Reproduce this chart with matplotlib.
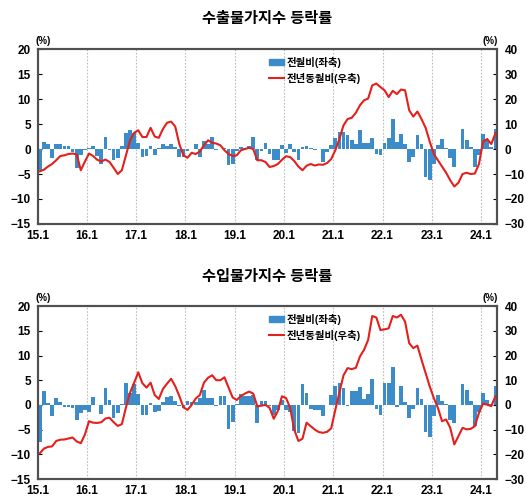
import numpy as np
import matplotlib
matplotlib.use('Agg')
import matplotlib.pyplot as plt
from matplotlib.patches import Patch
from matplotlib.lines import Line2D

plt.rcParams['font.family'] = ['Liberation Sans', 'Noto Sans CJK KR', 'DejaVu Sans']

# x tick labels (month index 0 = 2015.1, 112 months)
tick_labels = ['15.1', '16.1', '17.1', '18.1', '19.1', '20.1', '21.1', '22.1', '23.1', '24.1']

# export price index: month-on-month (left axis, %)
exp_mom = [
    -4.2, 1.4, 1.0, -1.8, 1.0, 1.1, 0.6, 0.6, -0.6, -3.8, -1.1, -0.2,
    0.2, 0.7, -1.4, -2.9, 2.4, -0.2, -2.2, -1.8, 0.7, 3.3, 3.8, 3.3,
    1.2, -1.5, -1.4, 0.6, -1.2, 0.2, 1.0, 0.6, 1.0, 0.5, -1.6, -1.5,
    -0.3, 0.1, 1.1, -1.6, 1.7, 1.0, 2.5, -0.2, 0.1, 0.3, -3.2, -2.9,
    -0.3, 0.4, 0.3, 0.7, 2.5, -2.2, -0.4, 1.3, -1.0, -2.25, -2.25, 0.75,
    -0.75, 1.0, -0.6, -2.25, 0.5, 0.6, 0.15, -0.15, 0.0, -2.5, -0.5, 0.75,
    2.25, 3.5, 3.5, 2.75, 1.75, 1.0, 3.75, 1.25, 1.25, 2.25, -1.0, -1.25,
    1.25, 2.25, 6.0, 1.5, 3.0, 1.0, -2.5, -1.5, 2.75, 1.0, -5.5, -6.25,
    -3.0, 0.75, 2.0, 0.15, -1.75, -3.5, 0.0, 4.0, 1.75, 0.5, -3.5, -1.25,
    3.0, 1.75, 0.5, 4.0,
]

# export price index: year-on-year (right axis, %)
exp_yoy = [
    -8.9, -8.3, -7.0, -6.0, -4.5, -2.8, -2.5, -2.0, -1.8, -2.2, -8.5, -5.0,
    -1.8, -2.8, -4.3, -5.0, -4.2, -5.2, -7.5, -10.0, -8.5, -2.5, 3.5, 6.5,
    7.5, 4.8, 4.8, 8.5, 5.0, 4.5, 8.0, 10.5, 11.0, 9.0, 2.0, -2.5,
    -3.5, -1.5, -2.0, -1.0, 1.5, 3.5, 2.5, 2.2, 1.5, -0.5, -2.0, -2.8,
    -2.5, -0.5, 0.0, 0.5, 0.0, -4.5, -4.5, -5.2, -7.2, -6.8, -6.0, -4.3,
    -2.9, -3.2, -4.8, -7.0, -8.5, -6.7, -6.0, -6.6, -6.2, -6.3, -5.6, -4.0,
    -0.5, 4.0, 9.5, 12.0, 12.5, 14.5, 17.5, 19.5, 20.2, 25.5, 26.2, 24.8,
    23.5, 20.8, 23.3, 22.0, 23.8, 23.5, 15.5, 13.0, 15.0, 12.0, 8.5, 3.0,
    -2.0, -4.5, -7.0, -9.5, -12.5, -15.0, -13.5, -10.0, -9.5, -10.0, -9.8, -6.0,
    3.0, 4.0, 2.0, 6.3,
]

# import price index: month-on-month (left axis, %)
imp_mom = [
    -7.5, 2.9, 0.3, -2.3, 1.4, 0.6, -0.4, -0.4, -0.6, -3.0, -1.7, -1.0,
    -1.5, 1.7, -0.1, -1.8, 3.4, 0.9, -2.7, -1.7, 0.2, 4.4, 2.5, 4.3,
    2.2, -2.1, -2.1, 0.4, -1.4, -1.3, 0.5, 1.6, 1.9, 0.8, -0.2, -0.6,
    0.8, 0.6, 0.6, 1.3, 3.0, 1.4, 1.5, -0.2, 1.8, 1.8, -4.8, -3.5,
    0.1, 2.3, 1.8, 1.9, 2.0, -3.6, 0.75, 0.75, -0.25, -2.0, -1.0, 1.0,
    -1.0, -1.5, -5.25, -5.75, 4.15, 2.4, -0.75, -1.0, -1.1, -2.15, 0.0, 2.0,
    3.75, 4.5, 3.4, -0.25, 2.9, 2.75, 3.6, 1.25, 2.25, 5.25, -0.75, -2.0,
    4.5, 4.5, 7.65, -0.5, 3.75, 0.5, -2.75, -0.75, 3.4, 1.25, -5.5, -6.5,
    -2.25, 2.0, 0.75, 0.25, -3.0, -3.75, 0.0, 4.25, 3.0, 0.75, -4.25, -1.5,
    2.5, 1.0, 0.25, 3.85,
]

# import price index: year-on-year (right axis, %)
imp_yoy = [
    -19.6, -17.7, -17.0, -16.8, -14.6, -14.1, -14.0, -13.6, -13.2, -14.8, -15.5, -12.0,
    -6.6, -7.2, -7.3, -7.0, -5.5, -5.2, -7.0, -8.5, -7.8, -1.0, 5.0, 9.0,
    13.2, 8.8, 7.0, 9.0, 4.0, 2.4, 6.4, 8.6, 10.6, 7.6, 3.6, -1.0,
    -2.0, 0.0, 2.6, 4.0, 9.0, 11.0, 12.0, 10.0, 10.0, 11.2, 7.0, 3.0,
    2.0, 3.6, 4.6, 5.4, 4.6, -0.6, -0.3, 0.0, -1.2, -5.6, -2.5, 3.5,
    2.8, -1.2, -10.0, -14.6, -13.7, -7.2, -8.6, -10.0, -11.0, -11.3, -10.9, -9.5,
    -2.0, 5.0, 12.0, 14.9, 14.5, 15.0, 19.6, 22.3, 26.3, 36.0, 35.4, 30.3,
    30.6, 31.0, 36.0, 35.4, 36.5, 33.7, 25.0, 23.0, 24.0, 18.3, 12.9, 7.5,
    2.8, -1.2, -6.6, -5.9, -9.3, -16.0, -12.6, -9.3, -9.9, -9.7, -8.6, -3.2,
    0.5, 0.1, -0.5, 3.5,
]

bar_color = '#3b8cc9'
line_color = '#e3201c'
frame_color = '#505050'


def draw_panel(rect, title, mom, yoy):
    ax = fig.add_axes(rect)
    n = len(mom)
    x = np.arange(n) + 0.5
    ax.bar(x, mom, width=0.9, color=bar_color, zorder=2)
    ax.set_xlim(0, n)
    ax.set_ylim(-15, 20)
    ax.set_yticks(range(-15, 21, 5))
    ax.set_xticks(range(0, n, 12))
    ax.set_xticklabels(tick_labels)
    for gx in range(12, n, 12):
        ax.axvline(gx, color='#bdbdbd', lw=0.8, ls=(0, (1.5, 1.5)), zorder=1)
    ax.tick_params(axis='y', direction='in', length=3, labelsize=8.5, pad=5)
    ax.tick_params(axis='x', length=0, labelsize=8.5, pad=4)
    for s in ax.spines.values():
        s.set_color(frame_color)
        s.set_linewidth(1.5)

    ax2 = ax.twinx()
    ax2.plot(x, yoy, color=line_color, lw=1.5, zorder=3)
    ax2.set_ylim(-30, 40)
    ax2.set_yticks(range(-30, 41, 10))
    ax2.tick_params(axis='y', direction='in', length=3, labelsize=8.5, pad=5)
    for s in ax2.spines.values():
        s.set_color(frame_color)
        s.set_linewidth(1.5)

    for lab in ax.get_xticklabels() + ax.get_yticklabels() + ax2.get_yticklabels():
        lab.set_fontweight('bold')

    ax.text(-0.005, 1.02, '(%)', transform=ax.transAxes, fontsize=7,
            fontweight='bold', ha='left', va='bottom')
    ax.text(1.0, 1.02, '(%)', transform=ax.transAxes, fontsize=7,
            fontweight='bold', ha='right', va='bottom')
    ax.text(0.5, 1.13, title, transform=ax.transAxes, fontsize=11,
            fontweight='bold', ha='center', va='bottom')

    handles = [Patch(color=bar_color, label='전월비(좌축)'),
               Line2D([], [], color=line_color, lw=1.5, label='전년동월비(우축)')]
    leg = ax.legend(handles=handles, loc='upper left', bbox_to_anchor=(0.49, 0.99),
                    frameon=False, fontsize=7.5, handlelength=1.4, handleheight=0.5,
                    handletextpad=0.3, labelspacing=0.45, borderaxespad=0.2)
    for t in leg.get_texts():
        t.set_fontweight('bold')
    return ax


fig = plt.figure(figsize=(5.26, 5.04), dpi=100)
draw_panel([0.0717, 0.5556, 0.874, 0.347], '수출물가지수 등락률', exp_mom, exp_yoy)
draw_panel([0.0717, 0.0496, 0.874, 0.343], '수입물가지수 등락률', imp_mom, imp_yoy)

fig.savefig('out.png', dpi=100)
